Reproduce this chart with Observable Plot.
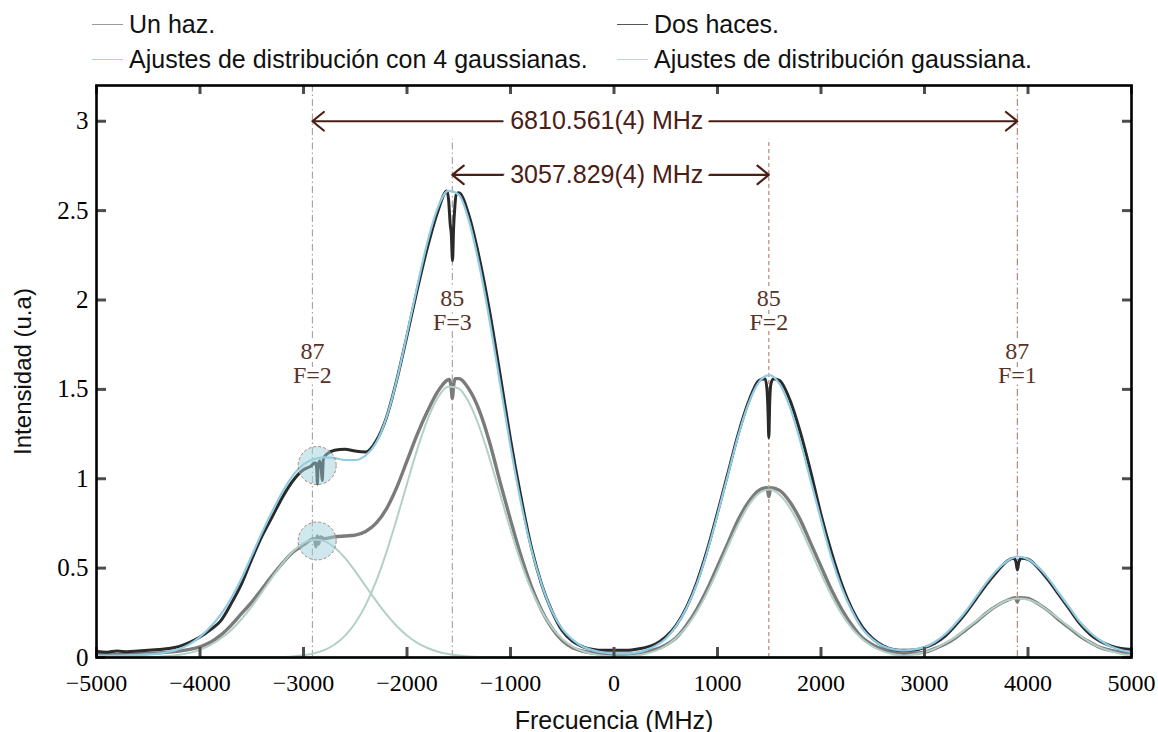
<!DOCTYPE html>
<html><head><meta charset="utf-8">
<script src="https://cdn.jsdelivr.net/npm/d3@7"></script>
<script src="https://cdn.jsdelivr.net/npm/@observablehq/plot@0.6"></script>
<style>
html,body{margin:0;padding:0;background:#fff;}
#wrap{position:relative;width:1158px;height:732px;overflow:hidden;font-family:"Liberation Sans",Arial,sans-serif;}
#legend{position:relative;width:1158px;height:70px;}
.item{position:absolute;height:30px;display:flex;align-items:center;font-size:25px;color:#111;white-space:nowrap;}
.item .sw{width:31px;height:0;border-top:1.8px solid;margin-right:6px;}
#chart svg{display:block;}
</style></head><body>
<div id="wrap"><div id="legend"></div><div id="chart"></div></div>
<script>
// ---------- data ----------
const freq = [
 -5000,-4900,-4800,-4700,-4600,-4500,-4400,-4300,-4200,-4100,
 -4000,-3900,-3800,-3700,-3600,-3500,-3400,-3300,-3200,-3100,
 -3000,-2900,-2800,-2700,-2600,-2500,-2400,-2300,-2200,-2100,
 -2000,-1900,-1800,-1700,-1600,-1500,-1400,-1300,-1200,-1100,
 -1000,-900,-800,-700,-600,-500,-400,-300,-200,-100,
 0,100,200,300,400,500,600,700,800,900,
 1000,1100,1200,1300,1400,1500,1600,1700,1800,1900,
 2000,2100,2200,2300,2400,2500,2600,2700,2800,2900,
 3000,3100,3200,3300,3400,3500,3600,3700,3800,3900,
 4000,4100,4200,4300,4400,4500,4600,4700,4800,4900,
 5000];

// "Dos haces." trace
const dosHaces = [
 0.035,0.030,0.036,0.032,0.036,0.040,0.045,0.050,0.062,0.085,
 0.115,0.155,0.205,0.300,0.410,0.550,0.680,0.790,0.900,0.990,
 1.050,1.070,1.130,1.160,1.165,1.155,1.150,1.210,1.340,1.550,
 1.800,2.060,2.300,2.500,2.580,2.600,2.470,2.230,1.930,1.580,
 1.220,0.900,0.620,0.410,0.260,0.150,0.090,0.060,0.045,0.040,
 0.040,0.040,0.045,0.055,0.075,0.115,0.180,0.280,0.420,0.600,
 0.810,1.030,1.250,1.430,1.550,1.560,1.550,1.440,1.260,1.040,
 0.800,0.590,0.410,0.270,0.170,0.105,0.065,0.045,0.040,0.042,
 0.055,0.080,0.120,0.180,0.250,0.330,0.410,0.480,0.540,0.550,
 0.550,0.500,0.430,0.350,0.270,0.190,0.130,0.090,0.065,0.050,
 0.045];
// narrow saturated-absorption features in "Dos haces."
const dosDipFreq = [-2930,-2885,-2873,-2866,-2858,-2842,-2828,-2819,-2808,-2770,
 -1615,-1598,-1582,-1572,-1560,-1550,-1538,-1525,
 1460,1478,1488,1496,1504,1516,1540,
 3860,3882,3897,3912,3935];
const dosDipVal = [1.07,1.09,1.06,0.97,1.08,1.10,1.05,0.99,1.11,1.14,
 2.61,2.56,2.42,2.37,2.22,2.40,2.52,2.59,
 1.56,1.50,1.38,1.23,1.42,1.53,1.56,
 0.555,0.540,0.490,0.535,0.555];

// "Un haz." trace
const unHaz = [
 0.015,0.018,0.015,0.017,0.020,0.022,0.026,0.030,0.036,0.045,
 0.060,0.085,0.125,0.180,0.245,0.310,0.385,0.460,0.530,0.590,
 0.630,0.650,0.665,0.675,0.680,0.685,0.705,0.750,0.830,0.950,
 1.100,1.250,1.380,1.490,1.550,1.560,1.500,1.380,1.200,0.980,
 0.770,0.570,0.400,0.265,0.165,0.095,0.055,0.035,0.025,0.020,
 0.018,0.018,0.022,0.030,0.045,0.070,0.110,0.180,0.270,0.380,
 0.510,0.640,0.770,0.870,0.935,0.950,0.935,0.870,0.770,0.640,
 0.510,0.380,0.270,0.180,0.110,0.070,0.045,0.030,0.024,0.024,
 0.030,0.050,0.075,0.110,0.155,0.200,0.250,0.290,0.320,0.335,
 0.330,0.300,0.260,0.210,0.165,0.120,0.085,0.055,0.040,0.030,
 0.022];
const unDipFreq = [-2895,-2880,-2868,-2855,-2838,-1590,-1575,-1562,-1550,-1535,1478,1496,1514,3878,3897,3916];
const unDipVal  = [0.665,0.620,0.680,0.635,0.675,1.555,1.520,1.450,1.520,1.560,0.950,0.900,0.950,0.335,0.310,0.335];

// 4-gaussian fit of "Dos haces."
const fit4 = [
 0.010,0.010,0.011,0.012,0.014,0.017,0.022,0.032,0.048,0.075,
 0.115,0.170,0.240,0.330,0.440,0.570,0.700,0.820,0.930,1.020,
 1.080,1.110,1.120,1.115,1.105,1.105,1.130,1.200,1.340,1.550,
 1.810,2.080,2.330,2.520,2.610,2.590,2.440,2.190,1.880,1.530,
 1.180,0.870,0.610,0.410,0.260,0.160,0.100,0.060,0.040,0.028,
 0.022,0.021,0.026,0.040,0.065,0.105,0.175,0.275,0.410,0.590,
 0.800,1.020,1.240,1.420,1.540,1.580,1.530,1.400,1.210,0.990,
 0.770,0.560,0.390,0.260,0.160,0.100,0.063,0.045,0.040,0.045,
 0.058,0.087,0.130,0.190,0.260,0.340,0.420,0.490,0.540,0.565,
 0.550,0.505,0.440,0.360,0.280,0.200,0.140,0.095,0.062,0.042,
 0.030];

// single-gaussian fits of "Un haz."
const gauss87F2 = [
 0,0,0,0,0.001,0.002,0.004,0.008,0.015,0.026,
 0.043,0.069,0.106,0.153,0.214,0.286,0.367,0.450,0.528,0.594,
 0.640,0.659,0.651,0.615,0.557,0.482,0.400,0.318,0.242,0.176,
 0.123,0.082,0.053,0.032,0.019,0.011,0.006,0.003,0.001,0,
 0,0,0,0,0,0,0,0,0,0,
 0,0,0,0,0,0,0,0,0,0,
 0,0,0,0,0,0,0,0,0,0,
 0,0,0,0,0,0,0,0,0,0,
 0,0,0,0,0,0,0,0,0,0,
 0,0,0,0,0,0,0,0,0,0,
 0];
const gauss85F3 = [
 0,0,0,0,0,0,0,0,0,0,
 0,0,0,0,0,0,0,0.001,0.003,0.006,
 0.012,0.023,0.041,0.073,0.121,0.193,0.293,0.424,0.587,0.773,
 0.972,1.166,1.334,1.456,1.516,1.505,1.425,1.288,1.110,0.912,
 0.715,0.534,0.381,0.260,0.168,0.104,0.061,0.035,0.019,0.010,
 0.005,0.002,0.001,0,0,0,0,0,0,0,
 0,0,0,0,0,0,0,0,0,0,
 0,0,0,0,0,0,0,0,0,0,
 0,0,0,0,0,0,0,0,0,0,
 0,0,0,0,0,0,0,0,0,0,
 0];
const gauss85F2 = [
 0,0,0,0,0,0,0,0,0,0,
 0,0,0,0,0,0,0,0,0,0,
 0,0,0,0,0,0,0,0,0,0,
 0,0,0,0,0,0,0,0,0,0,
 0,0,0,0,0,0,0,0,0,0.001,
 0.002,0.005,0.010,0.020,0.037,0.065,0.109,0.172,0.256,0.363,
 0.487,0.619,0.745,0.850,0.918,0.940,0.911,0.837,0.729,0.600,
 0.469,0.347,0.243,0.161,0.102,0.061,0.034,0.018,0.009,0.005,
 0.002,0.001,0,0,0,0,0,0,0,0,
 0,0,0,0,0,0,0,0,0,0,
 0];
const gauss87F1 = [
 0,0,0,0,0,0,0,0,0,0,
 0,0,0,0,0,0,0,0,0,0,
 0,0,0,0,0,0,0,0,0,0,
 0,0,0,0,0,0,0,0,0,0,
 0,0,0,0,0,0,0,0,0,0,
 0,0,0,0,0,0,0,0,0,0,
 0,0,0,0,0,0,0,0,0,0,
 0,0,0,0,0,0,0.002,0.005,0.010,0.018,
 0.030,0.050,0.080,0.115,0.160,0.205,0.250,0.290,0.320,0.330,
 0.325,0.300,0.260,0.215,0.170,0.125,0.085,0.055,0.035,0.020,
 0.012];

// hyperfine transitions
const transFreq = [-2914, -1562, 1496, 3897];
const transIso  = ["87", "85", "85", "87"];
const transF    = ["F=2", "F=3", "F=2", "F=1"];

// measured splittings
const spanLabels = ["6810.561(4) MHz", "3057.829(4) MHz"];
const spanFrom   = [0, 1];   // index into transitions
const spanTo     = [3, 2];

// highlighted regions
const highlightFreq  = [-2868, -2868];
const highlightValue = [1.074, 0.652];

// axis ticks
const xTicks = [-5000,-4000,-3000,-2000,-1000,0,1000,2000,3000,4000,5000];
const yTicks = [0,0.5,1,1.5,2,2.5,3];

// legend
const legendLabels = ["Un haz.", "Dos haces.", "Ajustes de distribución con 4 gaussianas.", "Ajustes de distribución gaussiana."];

// ---------- styling / layout ----------
const C = {
  un: "#7b7b7b", dos: "#2a2a2a", fit: "#8fcbe4", gauss: "#b2d0c7",
  legUn: "#9b9b9b", legDos: "#555555", legFit: "#9fd5ec", legGauss: "#c2d9d3",
  ruleGray: "#a89c9c", ruleRed: "#b47c6e", annot: "#4a2016", label: "#5a3226"
};
const legendPos = [[92, 9], [617, 9], [92, 44], [617, 44]];
const legendColors = [C.legUn, C.legDos, C.legFit, C.legGauss];
const transStyle = [
  {top: 3.2, labelY: 1.645, color: C.ruleGray, dash: "7,3,1.5,3"},
  {top: 2.9, labelY: 1.94,  color: C.ruleGray, dash: "7,3,1.5,3"},
  {top: 2.9, labelY: 1.94,  color: C.ruleRed,  dash: "4,3"},
  {top: 3.2, labelY: 1.645, color: C.ruleRed,  dash: "7,3,1.5,3"}
];
const spanStyle = [{y: 3.0, textX: -70}, {y: 2.70, textX: -70}];

// ---------- build tables ----------
function series(gridV, dipF, dipV) {
  const pts = freq.map((f, i) => ({f, v: gridV[i]}))
    .filter(p => !dipF.some(d => Math.abs(d - p.f) < 20));
  dipF.forEach((f, i) => pts.push({f, v: dipV[i]}));
  return pts.sort((a, b) => a.f - b.f);
}
const dosData = series(dosHaces, dosDipFreq, dosDipVal);
const unData = series(unHaz, unDipFreq, unDipVal);
const fitData = freq.map((f, i) => ({f, v: fit4[i]}));
const gaussData = [gauss87F2, gauss85F3, gauss85F2, gauss87F1]
  .flatMap((g, k) => freq.map((f, i) => ({f, v: g[i], k})));
const transitions = transFreq.map((f, i) => ({f, label: transIso[i] + "\n" + transF[i], ...transStyle[i]}));
const spans = spanLabels.map((label, i) => ({
  label, y: spanStyle[i].y, tx: spanStyle[i].textX,
  a: transFreq[spanFrom[i]], b: transFreq[spanTo[i]]
}));
const arrows = spans.flatMap(s => [{x1: s.tx, x2: s.a, y: s.y}, {x1: s.tx, x2: s.b, y: s.y}]);
const highlights = highlightFreq.map((f, i) => ({f, v: highlightValue[i]}));

// ---------- legend ----------
const legend = document.getElementById("legend");
legendLabels.forEach((t, i) => {
  const d = document.createElement("div");
  d.className = "item";
  d.style.left = legendPos[i][0] + "px";
  d.style.top = legendPos[i][1] + "px";
  const sw = document.createElement("span");
  sw.className = "sw";
  sw.style.borderTopColor = legendColors[i];
  d.appendChild(sw);
  d.appendChild(document.createTextNode(t));
  legend.appendChild(d);
});

// ---------- chart ----------
const W = 1158, H = 662, mL = 96, mR = 27, mT = 15, mB = 75;
const plotW = W - mL - mR, plotH = H - mT - mB;
const serif = "Liberation Serif, Times New Roman, serif";
const sans = "Liberation Sans, Arial, sans-serif";
const fmtX = d => d < 0 ? "\u2212" + Math.abs(d) : String(d);

const chart = Plot.plot({
  width: W, height: H,
  marginLeft: mL, marginRight: mR, marginTop: mT, marginBottom: mB,
  style: {background: "white", overflow: "visible"},
  x: {domain: [-5000, 5000]},
  y: {domain: [0, 3.2]},
  marks: [
    ...transitions.map(t => Plot.ruleX([t], {x: "f", y1: 0, y2: "top", stroke: t.color, strokeWidth: 1.1, strokeDasharray: t.dash})),
    Plot.text(transitions, {x: "f", y: "labelY", text: "label", lineHeight: 1.0, fontFamily: serif, fontSize: 24, fill: C.label, stroke: "white", strokeWidth: 8, strokeLinejoin: "round"}),
    Plot.line(unData, {x: "f", y: "v", stroke: C.un, strokeWidth: 3.4, curve: "monotone-x"}),
    Plot.line(dosData, {x: "f", y: "v", stroke: C.dos, strokeWidth: 3, curve: "monotone-x"}),
    Plot.line(gaussData, {x: "f", y: "v", z: "k", stroke: C.gauss, strokeWidth: 2, curve: "monotone-x"}),
    Plot.line(fitData, {x: "f", y: "v", stroke: C.fit, strokeWidth: 2.2, curve: "monotone-x"}),
    Plot.dot(highlights, {x: "f", y: "v", r: 19, fill: "#9fd2dc", fillOpacity: 0.5, stroke: "#a58678", strokeWidth: 1, strokeDasharray: "3,2"}),
    Plot.arrow(arrows, {x1: "x1", x2: "x2", y1: "y", y2: "y", stroke: C.annot, strokeWidth: 2.2, headLength: 10, headAngle: 78}),
    Plot.text(spans, {x: "tx", y: "y", text: "label", fontFamily: sans, fontSize: 25, fill: C.annot, stroke: "white", strokeWidth: 16, strokeLinejoin: "round"}),
    // inward ticks on all four sides
    Plot.ruleX(xTicks, {x: d => d, insetTop: plotH - 10, stroke: "#4d4d4d", strokeWidth: 3}),
    Plot.ruleX(xTicks, {x: d => d, insetBottom: plotH - 9, stroke: "#4d4d4d", strokeWidth: 3}),
    Plot.ruleY(yTicks, {y: d => d, insetRight: plotW - 10, stroke: "#4d4d4d", strokeWidth: 3}),
    Plot.ruleY(yTicks, {y: d => d, insetLeft: plotW - 9, stroke: "#4d4d4d", strokeWidth: 3}),
    Plot.axisX({ticks: xTicks, tickSize: 0, tickPadding: 16, tickFormat: fmtX, fontFamily: serif, fontSize: 24, label: null}),
    Plot.axisY({ticks: yTicks, tickSize: 0, tickPadding: 8, tickFormat: d => String(d), fontFamily: serif, fontSize: 25, label: null}),
    Plot.text(["Frecuencia (MHz)"], {frameAnchor: "bottom", dy: 63, lineAnchor: "middle", textAnchor: "middle", fontFamily: sans, fontSize: 25, fill: "#111"}),
    Plot.text(["Intensidad (u.a)"], {frameAnchor: "left", dx: -73, rotate: -90, lineAnchor: "middle", textAnchor: "middle", fontFamily: sans, fontSize: 24, fill: "#111"}),
    Plot.frame({stroke: "#000", strokeWidth: 2.6})
  ]
});
document.getElementById("chart").appendChild(chart);
</script></body></html>
